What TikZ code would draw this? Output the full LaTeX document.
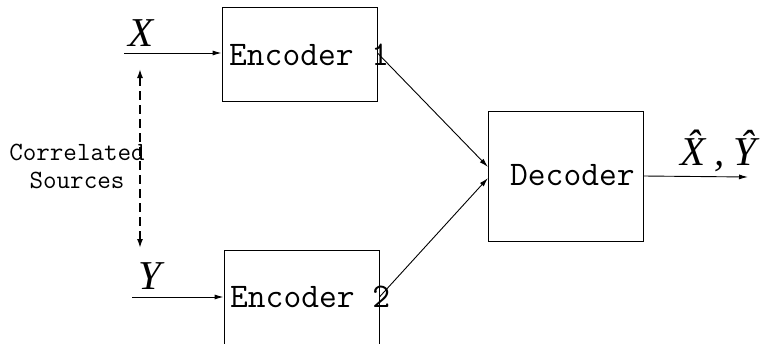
\documentclass[tikz,border=0pt]{standalone}
\usepackage{fontspec}
\setmainfont{Liberation Serif}
\usetikzlibrary{arrows.meta,calc}
\begin{document}
\begin{tikzpicture}[x=1pt,y=-1pt,
  blk/.style={draw,line width=0.9pt,inner sep=0pt},
  lbl/.style={inner sep=0pt,font=\ttfamily\fontsize{34.5}{40}\selectfont},
  var/.style={inner sep=0pt,font=\itshape\fontsize{41}{48}\selectfont},
  arr/.style={line width=0.9pt,-{Latex[length=9pt,width=5pt]}},
  darr/.style={line width=1.6pt,dash pattern=on 9pt off 5pt,{Latex[length=9pt,width=6pt]}-{Latex[length=9pt,width=6pt]}}]
\useasboundingbox (0,0) rectangle (760,343);
\clip (0,0) rectangle (760,343);
% boxes
\node[blk,minimum width=155pt,minimum height=94pt] (enc1) at (299.5,54) {};
\node[blk,minimum width=155pt,minimum height=97pt] (enc2) at (301.5,298.5) {};
\node[blk,minimum width=155pt,minimum height=130pt] (dec) at (565.5,176) {};
% texts
\node[lbl,anchor=base west] (t1) at (229,65) {Encoder 1};
\node[lbl,anchor=base west] (t2) at (230,307) {Encoder 2};
\node[lbl,anchor=base west] (t3) at (510,185) {Decoder};
\node[inner sep=0pt,align=center,anchor=base,font=\ttfamily\fontsize{26.3}{28}\selectfont] (cs) at (77,188) {Correlated\\Sources};
\node[var,anchor=base west] (x) at (128,46) {X};
\node[var,anchor=base west] (y) at (138,289) {Y};
\node[var,anchor=base west] (xy) at (680,165) {\^X\hspace{9pt},\hspace{9pt}\^Y};
% connectors
\coordinate (xin) at (124,53);
\coordinate (yin) at (132,297);
\coordinate (out) at (748,177);
\coordinate (d1) at (488,167);
\coordinate (d2) at (488,178);
\coordinate (c1) at (140,69);
\coordinate (c2) at (140,248);
\draw[arr] (xin) -- (enc1.west |- xin);
\draw[arr] (yin) -- (enc2.west |- yin);
\draw[arr] (enc1.east |- xin) -- (d1);
\draw[arr] (enc2.east |- yin) -- (d2);
\draw[arr] (dec.east) -- (out);
\draw[darr] (c1) -- (c2);
\end{tikzpicture}
\end{document}
